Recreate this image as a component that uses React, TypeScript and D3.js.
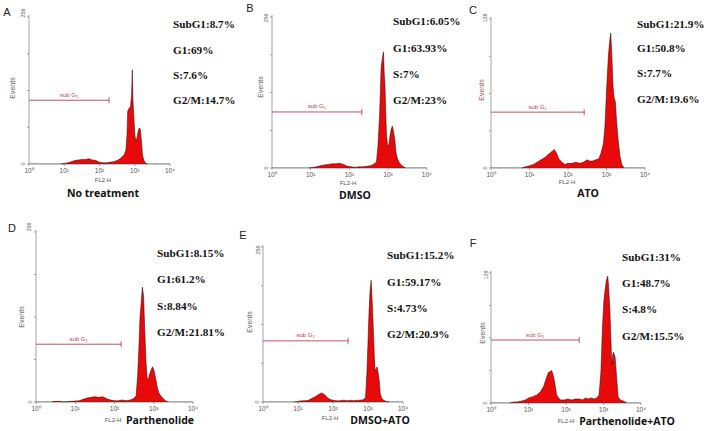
import React from 'react';
import * as d3 from 'd3';

// ---------- data ----------
const panelLetters = ['A', 'B', 'C', 'D', 'E', 'F'];
const treatments = ['No treatment', 'DMSO', 'ATO', 'Parthenolide', 'DMSO+ATO', 'Parthenolide+ATO'];
const xAxisTitles = ['FL2 H', 'FL2-H', 'FL2-H', 'FL2-H', 'FL2-H', 'FL2-H'];
const yMaxValues = [256, 256, 128, 256, 256, 128];
const decadeExponents = [0, 1, 2, 3, 4];
const superscripts = ['⁰', '¹', '²', '³', '⁴'];
// sub G1 gate: [end (log10 FL2-H), level (events)]
const subG1Gates: [number, number][] = [[2.27, 111], [2.32, 95], [2.42, 48], [2.17, 87], [2.43, 101], [2.35, 62]];

const statsA = ['SubG1:8.7%', 'G1:69%', 'S:7.6%', 'G2/M:14.7%'];
const statsB = ['SubG1:6.05%', 'G1:63.93%', 'S:7%', 'G2/M:23%'];
const statsC = ['SubG1:21.9%', 'G1:50.8%', 'S:7.7%', 'G2/M:19.6%'];
const statsD = ['SubG1:8.15%', 'G1:61.2%', 'S:8.84%', 'G2/M:21.81%'];
const statsE = ['SubG1:15.2%', 'G1:59.17%', 'S:4.73%', 'G2/M:20.9%'];
const statsF = ['SubG1:31%', 'G1:48.7%', 'S:4.8%', 'G2/M:15.5%'];

// histograms: [log10(FL2-H), events]
const histA: [number, number][] = [[0.9,0],[1.0,1],[1.1,2],[1.2,4],[1.3,6],[1.4,7],[1.5,8],[1.6,8],[1.7,9],[1.8,7],[1.9,6],[2.0,3],[2.1,2],[2.2,2],[2.3,3],[2.4,4],[2.5,6],[2.6,10],[2.7,16],[2.75,25],[2.78,50],[2.8,92],[2.84,97],[2.88,100],[2.91,120],[2.93,164],[2.95,110],[2.98,75],[3.0,52],[3.03,40],[3.06,45],[3.1,58],[3.13,63],[3.16,60],[3.19,40],[3.22,15],[3.26,6],[3.3,2],[3.36,0]];
const histB: [number, number][] = [[0.95,0],[1.05,1],[1.15,2],[1.25,4],[1.35,5],[1.45,6],[1.55,7],[1.65,7],[1.75,8],[1.85,6],[1.95,3],[2.05,2],[2.15,1],[2.25,2],[2.35,2],[2.45,3],[2.55,4],[2.62,6],[2.7,10],[2.74,40],[2.78,90],[2.82,170],[2.86,190],[2.88,197],[2.9,160],[2.92,140],[2.94,90],[2.96,55],[2.99,36],[3.02,40],[3.05,55],[3.08,66],[3.11,71],[3.14,62],[3.17,50],[3.2,28],[3.24,16],[3.28,10],[3.33,6],[3.38,3],[3.45,0]];
const histC: [number, number][] = [[0.8,0],[0.9,1],[1.0,2],[1.1,3],[1.2,5],[1.3,7],[1.4,9],[1.5,12],[1.58,14],[1.64,16],[1.7,13],[1.76,8],[1.84,5],[1.92,3],[2.0,4],[2.1,4],[2.2,5],[2.3,4],[2.4,5],[2.5,7],[2.56,6],[2.64,6],[2.72,7],[2.8,8],[2.86,13],[2.92,21],[2.96,36],[3.0,66],[3.05,97],[3.08,108],[3.11,116],[3.14,96],[3.17,70],[3.2,60],[3.23,57],[3.26,41],[3.3,25],[3.35,10],[3.4,3],[3.45,0]];
const histD: [number, number][] = [[0.4,0],[0.5,1],[0.6,1],[0.7,0],[0.9,1],[1.1,2],[1.2,4],[1.3,6],[1.4,7],[1.5,8],[1.6,7],[1.7,8],[1.8,5],[1.9,3],[2.0,2],[2.1,2],[2.2,3],[2.3,2],[2.4,3],[2.48,5],[2.55,9],[2.59,40],[2.62,80],[2.65,128],[2.68,150],[2.71,173],[2.74,160],[2.77,110],[2.8,63],[2.83,36],[2.86,34],[2.89,41],[2.93,48],[2.97,53],[3.01,47],[3.05,35],[3.09,22],[3.13,14],[3.18,9],[3.24,5],[3.3,2],[3.36,0]];
const histE: [number, number][] = [[0.9,0],[1.0,1],[1.1,2],[1.2,2],[1.3,3],[1.4,6],[1.5,9],[1.6,13],[1.68,15],[1.76,12],[1.84,7],[1.92,4],[2.0,3],[2.1,2],[2.2,2],[2.3,3],[2.4,2],[2.5,3],[2.6,2],[2.7,3],[2.8,3],[2.88,4],[2.93,8],[2.97,50],[3.0,100],[3.03,150],[3.06,185],[3.09,201],[3.12,165],[3.15,124],[3.18,75],[3.2,53],[3.23,55],[3.26,58],[3.29,48],[3.32,36],[3.35,14],[3.39,6],[3.45,3],[3.52,1],[3.6,0]];
const histF: [number, number][] = [[0.5,0],[0.6,1],[0.7,1],[0.82,2],[0.92,3],[1.0,5],[1.1,6],[1.22,8],[1.32,11],[1.4,16],[1.47,24],[1.53,30],[1.58,31],[1.62,32],[1.66,27],[1.7,20],[1.75,8],[1.8,5],[1.86,3],[1.95,3],[2.05,4],[2.15,3],[2.25,4],[2.35,4],[2.45,3],[2.52,5],[2.59,4],[2.67,5],[2.75,4],[2.82,5],[2.88,8],[2.93,30],[2.97,72],[3.01,101],[3.05,114],[3.08,121],[3.11,125],[3.13,118],[3.15,105],[3.17,92],[3.2,60],[3.22,38],[3.25,48],[3.27,50],[3.31,45],[3.35,25],[3.39,6],[3.45,3],[3.53,2],[3.62,0]];

const histograms = [histA, histB, histC, histD, histE, histF];
const stats = [statsA, statsB, statsC, statsD, statsE, statsF];

// ---------- layout ----------
type Layout = {
  x0: number; dec: number; base: number; top: number;
  statX: number; statY: number[];
  letter: [number, number]; cap: [number, number]; fl: [number, number];
  ev: [number, number]; ymax: [number, number]; evColor: string;
};
const layouts: Layout[] = [
  { x0: 29, dec: 35.25, base: 164, top: 17, statX: 173, statY: [24, 50, 75, 100], letter: [7, 12], cap: [103, 193], fl: [103, 180], ev: [13, 88], ymax: [23, 13], evColor: '#666' },
  { x0: 272, dec: 38.7, base: 168, top: 17, statX: 393, statY: [21, 48, 74, 100], letter: [250, 8], cap: [355, 195], fl: [348, 183], ev: [261, 87], ymax: [266, 18], evColor: '#666' },
  { x0: 491, dec: 38.5, base: 168, top: 19, statX: 637, statY: [24, 48, 73, 99], letter: [473, 10], cap: [588, 193], fl: [567, 182], ev: [482, 90], ymax: [485, 18], evColor: '#a05a55' },
  { x0: 36, dec: 39.25, base: 402, top: 232, statX: 157, statY: [253, 279, 306, 332], letter: [12, 228], cap: [160, 420], fl: [113, 420], ev: [22, 317], ymax: [29, 227], evColor: '#666' },
  { x0: 263, dec: 35, base: 402, top: 247, statX: 387, statY: [255, 282, 308, 334], letter: [243, 235], cap: [380, 420], fl: [330, 418], ev: [250, 322], ymax: [258, 250], evColor: '#666' },
  { x0: 491, dec: 37.5, base: 403, top: 273, statX: 622, statY: [257, 283, 309, 336], letter: [473, 243], cap: [627, 421], fl: [566, 421], ev: [483, 333], ymax: [486, 275], evColor: '#666' },
];

const RED = '#e80a0a';
const GATE = '#b8424f';
const AXIS = '#8a8a8a';

function Panel({ i }: { i: number }) {
  const L = layouts[i];
  const yMax = yMaxValues[i];
  const xs = d3.scaleLinear().domain([0, 4]).range([L.x0, L.x0 + 4 * L.dec]);
  const ys = d3.scaleLinear().domain([0, yMax]).range([L.base, L.top]);
  const data = histograms[i];
  const area = d3.area<[number, number]>().x(d => xs(d[0])).y0(L.base).y1(d => ys(d[1]));
  const line = d3.line<[number, number]>().x(d => xs(d[0])).y(d => ys(d[1]));
  const yTicks = d3.range(0, 5).map(k => (k * yMax) / 4);
  const [gEnd, gLevel] = subG1Gates[i];
  const gy = ys(gLevel);
  const gx1 = xs(gEnd);
  return (
    <g>
      <text x={L.letter[0]} y={L.letter[1] + 4} textAnchor="middle" fontFamily="Liberation Sans, Arial, sans-serif" fontSize={11} fill="#222">{panelLetters[i]}</text>
      {/* axes */}
      <line x1={L.x0} x2={L.x0} y1={L.top - 2} y2={L.base} stroke={AXIS} strokeWidth={0.8} />
      <line x1={L.x0} x2={xs(4)} y1={L.base} y2={L.base} stroke={AXIS} strokeWidth={0.8} />
      {yTicks.map((t, k) => (
        <line key={k} x1={L.x0 - 2} x2={L.x0} y1={ys(t)} y2={ys(t)} stroke={AXIS} strokeWidth={0.8} />
      ))}
      {decadeExponents.map(e => (
        <g key={e}>
          <line x1={xs(e)} x2={xs(e)} y1={L.base} y2={L.base + 2} stroke={AXIS} strokeWidth={0.8} />
          <text x={xs(e)} y={L.base + 9} textAnchor="middle" fontFamily="Liberation Sans, Arial, sans-serif" fontSize={6.5} fill="#555">{'10' + superscripts[e]}</text>
        </g>
      ))}
      <text transform={`translate(${L.ymax[0] + 2},${L.ymax[1]}) rotate(-90)`} textAnchor="middle" fontFamily="Liberation Sans, Arial, sans-serif" fontSize={5.5} fill="#666">{yMax}</text>
      <text transform={`translate(${L.x0 - 4},${L.base}) rotate(-90)`} textAnchor="middle" fontFamily="Liberation Sans, Arial, sans-serif" fontSize={5.5} fill="#666">0</text>
      <text transform={`translate(${L.ev[0] + 2},${L.ev[1]}) rotate(-90)`} textAnchor="middle" fontFamily="Liberation Sans, Arial, sans-serif" fontSize={7} fill={L.evColor}>Events</text>
      <text x={L.fl[0]} y={L.fl[1] + 2} textAnchor="middle" fontFamily="Liberation Sans, Arial, sans-serif" fontSize={6} fill="#555">{xAxisTitles[i]}</text>
      {/* histogram */}
      <path d={area(data) || ''} fill={RED} />
      <path d={line(data) || ''} fill="none" stroke="#2a0000" strokeWidth={0.6} strokeOpacity={0.85} />
      <line x1={L.x0} x2={xs(4)} y1={L.base - 0.3} y2={L.base - 0.3} stroke="#333" strokeWidth={0.5} strokeOpacity={0.6} />
      {/* sub G1 gate */}
      <line x1={L.x0} x2={gx1} y1={gy} y2={gy} stroke={GATE} strokeWidth={0.9} />
      <line x1={gx1} x2={gx1} y1={gy - 3} y2={gy + 3} stroke={GATE} strokeWidth={0.9} />
      <text x={(L.x0 + gx1) / 2} y={gy - 3.5} textAnchor="middle" fontFamily="Liberation Sans, Arial, sans-serif" fontSize={6} fill={GATE}>
        sub G<tspan fontSize={4} dy={1}>1</tspan>
      </text>
      {/* stats */}
      {stats[i].map((s, k) => (
        <text key={k} x={L.statX} y={L.statY[k] + 4} fontFamily="Liberation Serif, Times New Roman, serif" fontWeight="bold" fontSize={11.2} fill="#111">{s}</text>
      ))}
      <text x={L.cap[0]} y={L.cap[1] + 4} textAnchor="middle" fontFamily="Open Sans, Liberation Sans, sans-serif" fontWeight="bold" fontSize={10.5} fill="#111">{treatments[i]}</text>
    </g>
  );
}

export default function App() {
  return (
    <svg width={708} height={431} style={{ position: 'absolute', left: 0, top: 0, background: '#fff' }}>
      <rect width={708} height={431} fill="#fff" />
      {layouts.map((_, i) => <Panel key={i} i={i} />)}
    </svg>
  );
}
